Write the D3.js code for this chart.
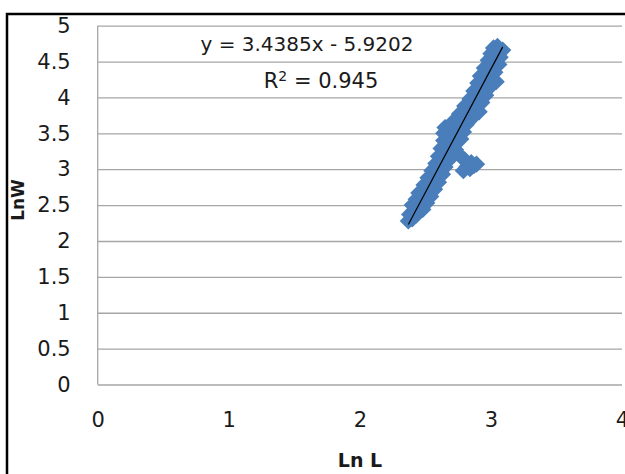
<!DOCTYPE html>
<html>
<head>
<meta charset="utf-8">
<script src="https://cdn.jsdelivr.net/npm/d3@7"></script>
<style>
  html, body { margin: 0; padding: 0; background: #fff; }
  svg { display: block; }
  text { font-family: "DejaVu Sans", sans-serif; fill: #1a1a1a; }
</style>
</head>
<body>
<svg id="chart" width="625" height="474"></svg>
<script>
// ---- data ----
const lnL = [
  2.37, 2.40, 2.38, 2.43, 2.41, 2.40, 2.45, 2.48, 2.43, 2.47, 2.51,
  2.45, 2.50, 2.54, 2.49, 2.53, 2.57, 2.52, 2.56, 2.60, 2.55, 2.59, 2.63,
  2.58, 2.62, 2.65, 2.60, 2.64, 2.68, 2.62, 2.66, 2.70, 2.64, 2.68, 2.72,
  2.64, 2.69, 2.74, 2.77, 2.65, 2.70, 2.75, 2.79, 2.71, 2.76, 2.81,
  2.76, 2.81, 2.86, 2.91, 2.80, 2.85, 2.89, 2.84, 2.88, 2.93,
  2.87, 2.91, 2.96, 2.90, 2.94, 2.99, 2.92, 2.97, 3.01, 3.04,
  2.95, 2.99, 3.03, 2.98, 3.02, 3.06, 3.00, 3.04, 3.07, 3.02, 3.05, 3.09,
  2.73, 2.80, 2.85, 2.89, 2.79, 2.84, 2.77, 2.82, 2.87,
  2.97, 3.00, 2.93, 2.83, 2.78, 2.67, 2.57, 2.46
];
const lnW = [
  2.28, 2.31, 2.37, 2.36, 2.42, 2.50, 2.47, 2.44, 2.58, 2.55, 2.53,
  2.67, 2.64, 2.62, 2.78, 2.74, 2.72, 2.88, 2.85, 2.82, 2.98, 2.95, 2.93,
  3.08, 3.05, 3.03, 3.18, 3.15, 3.13, 3.29, 3.26, 3.23, 3.40, 3.36, 3.33,
  3.50, 3.47, 3.44, 3.42, 3.58, 3.57, 3.54, 3.52, 3.66, 3.64, 3.62,
  3.77, 3.74, 3.72, 3.80, 3.88, 3.85, 3.83, 3.98, 3.96, 3.93,
  4.09, 4.06, 4.03, 4.20, 4.17, 4.14, 4.30, 4.28, 4.25, 4.22,
  4.41, 4.38, 4.35, 4.52, 4.48, 4.46, 4.61, 4.58, 4.56, 4.69, 4.71, 4.66,
  3.27, 3.13, 3.09, 3.07, 2.98, 3.01, 3.18, 3.04, 3.05,
  4.11, 4.31, 3.99, 3.90, 3.69, 3.44, 3.01, 2.50
];
const slope = 3.4385;
const intercept = -5.9202;
const equationLabel = "y = 3.4385x - 5.9202";
const r2Label = ["R", "2", " = 0.945"];
const xTickValues = [0, 1, 2, 3, 4];
const yTickValues = [0, 0.5, 1, 1.5, 2, 2.5, 3, 3.5, 4, 4.5, 5];
const xTitle = "Ln L";
const yTitle = "LnW";

// ---- layout ----
const svg = d3.select("#chart");
const pLeft = 97.7, pRight = 622, pTop = 25.7, pBottom = 384.5;
const x = d3.scaleLinear().domain([0, 4]).range([pLeft, pRight]);
const y = d3.scaleLinear().domain([0, 5]).range([pBottom, pTop]);

// outer frame (only top/left visible)
svg.append("rect")
  .attr("x", 7).attr("y", 14)
  .attr("width", 700).attr("height", 600)
  .attr("fill", "none").attr("stroke", "#000").attr("stroke-width", 2.5);

// y axis with gridlines
const yAxis = svg.append("g")
  .attr("transform", `translate(${pLeft},0)`)
  .call(d3.axisLeft(y).tickValues(yTickValues).tickFormat(d3.format("~g"))
        .tickSize(-(pRight - pLeft)).tickPadding(27));
yAxis.select(".domain").remove();
yAxis.selectAll(".tick line").attr("stroke", "#a6a6a6").attr("stroke-width", 1.3);
yAxis.selectAll(".tick text").attr("font-size", 21).style("font-family", '"DejaVu Sans", sans-serif').attr("fill", "#1a1a1a");

// plot-area left line
svg.append("line")
  .attr("x1", pLeft).attr("x2", pLeft).attr("y1", pTop).attr("y2", pBottom)
  .attr("stroke", "#a6a6a6").attr("stroke-width", 1.3);

// x axis labels
const xAxis = svg.append("g")
  .attr("transform", `translate(0,${pBottom})`)
  .call(d3.axisBottom(x).tickValues(xTickValues).tickFormat(d3.format("~g"))
        .tickSize(0).tickPadding(28));
xAxis.select(".domain").remove();
xAxis.selectAll(".tick text").attr("font-size", 21).style("font-family", '"DejaVu Sans", sans-serif').attr("fill", "#1a1a1a");

// points
const pts = lnL.map((v, i) => [v, lnW[i]]);
const sym = d3.symbol().type(d3.symbolSquare).size(150);
svg.append("g").selectAll("path")
  .data(pts).join("path")
  .attr("d", sym)
  .attr("transform", d => `translate(${x(d[0])},${y(d[1])}) rotate(45)`)
  .attr("fill", "#4a7ebb");

// trendline
const [xmin, xmax] = d3.extent(lnL);
svg.append("line")
  .attr("x1", x(xmin)).attr("y1", y(slope * xmin + intercept))
  .attr("x2", x(xmax)).attr("y2", y(slope * xmax + intercept))
  .attr("stroke", "#000").attr("stroke-width", 1.2);

// equation labels
svg.append("text")
  .attr("x", 307).attr("y", 51)
  .attr("text-anchor", "middle").attr("font-size", 20)
  .text(equationLabel);
const r2 = svg.append("text")
  .attr("x", 321).attr("y", 88)
  .attr("text-anchor", "middle").attr("font-size", 21);
r2.append("tspan").text(r2Label[0]);
r2.append("tspan").attr("dy", -7).attr("font-size", 14).text(r2Label[1]);
r2.append("tspan").attr("dy", 7).text(r2Label[2]);

// axis titles
svg.append("text")
  .attr("x", 360).attr("y", 467)
  .attr("text-anchor", "middle").attr("font-size", 19).attr("font-weight", "bold")
  .text(xTitle);
svg.append("text")
  .attr("transform", "translate(24,200) rotate(-90)")
  .attr("text-anchor", "middle").attr("font-size", 17).attr("font-weight", "bold")
  .text(yTitle);
</script>
</body>
</html>
